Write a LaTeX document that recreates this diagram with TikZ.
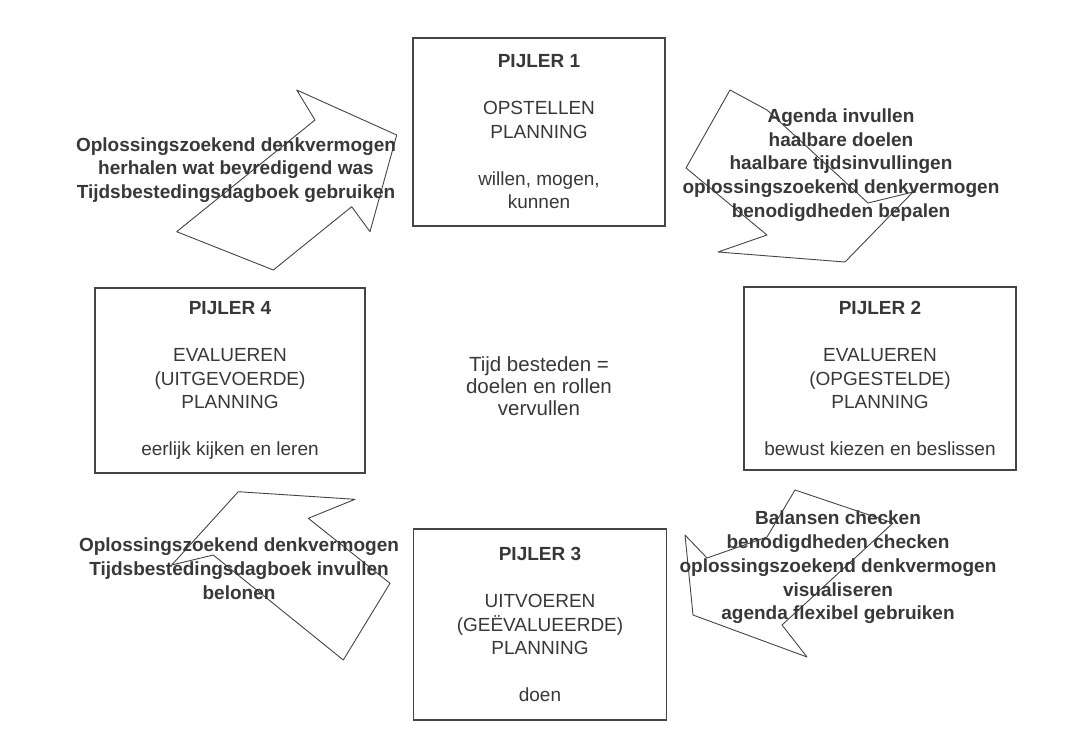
\documentclass[tikz,border=0pt]{standalone}
\usepackage{fontspec}
\setmainfont{Liberation Sans}
\definecolor{inkt}{HTML}{383838}
\definecolor{lijn}{HTML}{454545}

\begin{document}
\begin{tikzpicture}[x=1pt, y=-1pt,
    pijler/.style={draw=lijn, line width=1.3pt, text=inkt, align=center,
        font=\fontsize{19}{23.5}\selectfont, inner sep=0pt},
    pijl/.style={draw=lijn, line width=0.9pt, line join=round},
    pijltekst/.style={text=inkt, align=center,
        font=\bfseries\fontsize{19}{23.8}\selectfont},
    kerntekst/.style={text=inkt, align=center,
        font=\fontsize{20.5}{22}\selectfont}]

    % Canvas
    \useasboundingbox[fill=white] (0,0) rectangle (1069,731);

    % Pillars
    \node[pijler, minimum width=252pt, minimum height=188pt] (pijler1) at (539,132)
        {\textbf{PIJLER 1}\\[23.5pt] OPSTELLEN\\ PLANNING\\[23.5pt] willen, mogen,\\ kunnen};
    \node[pijler, minimum width=272pt, minimum height=183pt] (pijler2) at (880,378.5)
        {\textbf{PIJLER 2}\\[23.5pt] EVALUEREN\\ (OPGESTELDE)\\ PLANNING\\[23.5pt] bewust kiezen en beslissen};
    \node[pijler, minimum width=253pt, minimum height=191pt] (pijler3) at (540,624.5)
        {\textbf{PIJLER 3}\\[23.5pt] UITVOEREN\\ (GEËVALUEERDE)\\ PLANNING\\[23.5pt] doen};
    \node[pijler, minimum width=270pt, minimum height=185pt] (pijler4) at (230,380.5)
        {\textbf{PIJLER 4}\\[23.5pt] EVALUEREN\\ (UITGEVOERDE)\\ PLANNING\\[23.5pt] eerlijk kijken en leren};

    % Centre
    \node[kerntekst] (kern) at (539,386) {Tijd besteden =\\ doelen en rollen\\ vervullen};

    % Arrow pijler 4 to pijler 1
    \draw[pijl] (176.7,231.7) -- (315,120) -- (296.7,90) -- (396.7,135)
        -- (370,231.7) -- (351.7,206.7) -- (273.3,270) -- cycle;
    \node[pijltekst] (tekst41) at (236,170)
        {Oplossingszoekend denkvermogen\\ herhalen wat bevredigend was\\ Tijdsbestedingsdagboek gebruiken};

    % Arrow pijler 1 to pijler 2
    \draw[pijl] (730,90) -- (767,110) -- (868,203) -- (913,192) -- (845,262)
        -- (718,252) -- (767,235) -- (686,168) -- cycle;
    \node[pijltekst] (tekst12) at (841,165)
        {Agenda invullen\\ haalbare doelen\\ haalbare tijdsinvullingen\\ oplossingszoekend denkvermogen\\ benodigdheden bepalen};

    % Arrow pijler 2 to pijler 3
    \draw[pijl] (795,490) -- (893,523) -- (782,625) -- (807,657) -- (693,615)
        -- (685,535) -- (707,558) -- (767,537) -- cycle;
    \node[pijltekst] (tekst23) at (838,567.5)
        {Balansen checken\\ benodigdheden checken\\ oplossingszoekend denkvermogen\\ visualiseren\\ agenda flexibel gebruiken};

    % Arrow pijler 3 to pijler 4
    \draw[pijl] (238.3,491.7) -- (355,499.3) -- (308.3,518.3) -- (390,583.3)
        -- (343.3,660) -- (213.3,555) -- (171.7,565) -- cycle;
    \node[pijltekst] (tekst34) at (239,569)
        {Oplossingszoekend denkvermogen\\ Tijdsbestedingsdagboek invullen\\ belonen};

\end{tikzpicture}
\end{document}
